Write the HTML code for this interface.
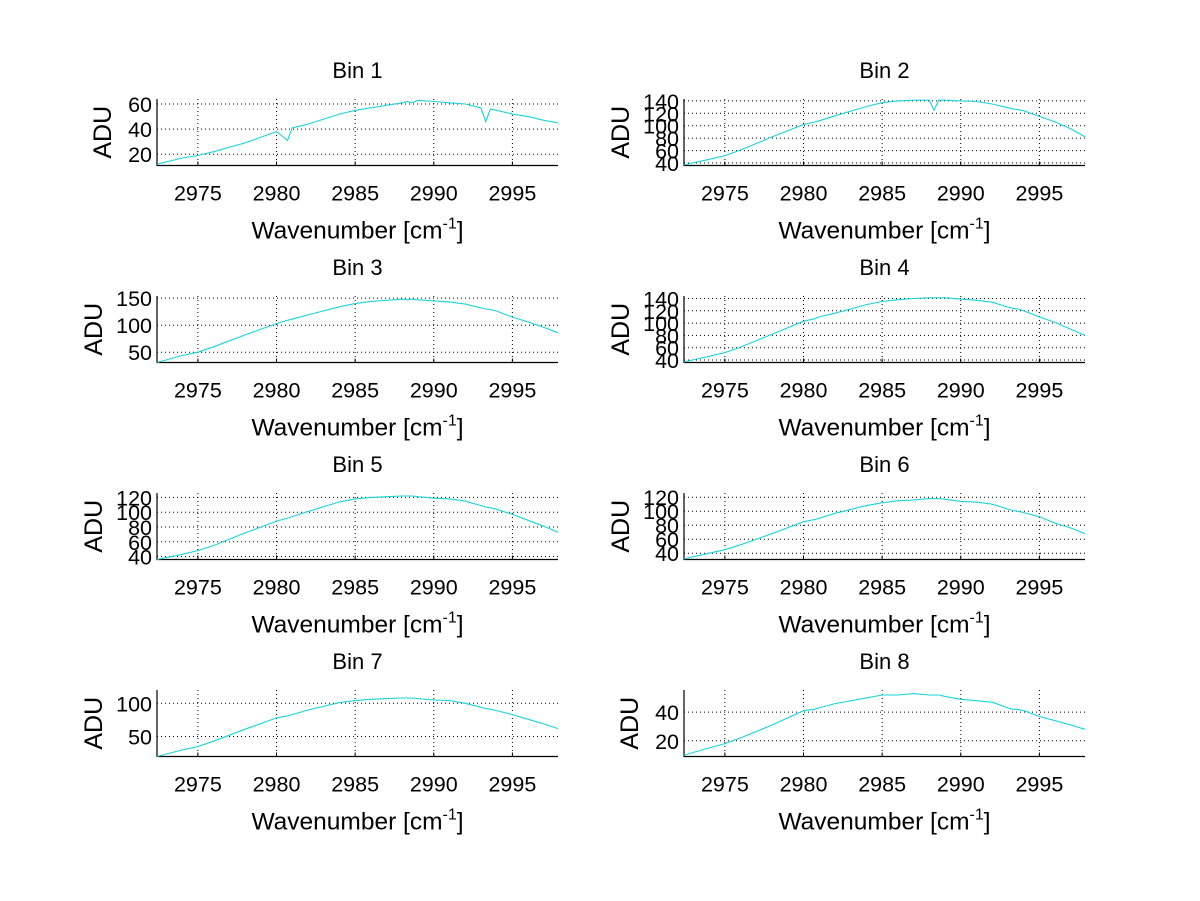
<!DOCTYPE html>
<html><head><meta charset="utf-8"><style>
html,body{margin:0;padding:0;background:#fff}
svg{display:block}
text{font-family:"Liberation Sans",sans-serif;fill:#000}
</style></head><body>
<svg id="fig" width="1200" height="901" viewBox="0 0 1200 901"></svg>
<script>
const binTitles = ["Bin 1","Bin 2","Bin 3","Bin 4","Bin 5","Bin 6","Bin 7","Bin 8"];
const xTicks = [2975,2980,2985,2990,2995];
const xLim = [2972.4, 2997.9];
const yLims = [[11,64],[36,143],[31,154],[36,144],[36,126],[31,126],[20,120],[9,55.5]];
const yTicks = [[20,40,60],[40,60,80,100,120,140],[50,100,150],[40,60,80,100,120,140],[40,60,80,100,120],[40,60,80,100,120],[50,100],[20,40]];
const wn = [2972.4,2974,2975,2976,2978,2980,2980.7,2981,2982,2984,2985,2986,2987,2988,2988.3,2988.6,2989,2990,2991,2992,2993,2993.3,2993.6,2994,2995,2996,2997,2997.9];
const bin1 = [12,17,19,22,29,38,31,41,44,52,55,57,59,61,62,61,63,62,61,60,57,46,56,55,52,50,47,45];
const bin2 = [37,46,52,61,82,102,106,108,116,131,137,140,141,141,125,141,141,140,139,135,129,127,126,124,115,106,95,82];
const bin3 = [31,44,50,60,82,103,109,111,119,134,140,144,146,148,147,148,147,145,143,139,132,130,129,126,115,106,96,86];
const bin4 = [37,46,52,61,82,103,107,110,116,130,135,138,140,141,141,141,141,139,137,134,126,124,123,120,110,101,90,80];
const bin5 = [36,43,48,55,72,88,92,94,101,114,118,120,121,122,122,122,121,119,118,115,109,107,106,104,97,89,81,73];
const bin6 = [32,40,45,52,68,85,88,90,97,108,112,115,116,118,118,118,117,114,113,110,103,101,100,98,92,83,76,68];
const bin7 = [20,30,35,43,61,78,81,83,90,101,104,106,107,108,108,108,107,105,104,100,94,92,91,89,83,76,69,62];
const bin8 = [10,15,18,22,31,41,42,43,46,50,52,52,53,52,52,52,51,49,48,47,43,42,42,41,37,34,31,28];
const series = [bin1,bin2,bin3,bin4,bin5,bin6,bin7,bin8];

const NS = "http://www.w3.org/2000/svg";
const svg = document.getElementById("fig");
function mk(tag, attrs, parent){
  const e = document.createElementNS(NS, tag);
  for (const k in attrs) e.setAttribute(k, attrs[k]);
  (parent||svg).appendChild(e);
  return e;
}
const colX = [157, 684], plotW = 401, rowY = [99, 296, 493, 690], plotH = 66.5;
for (let i = 0; i < 8; i++) {
  const L = colX[i % 2], T = rowY[Math.floor(i / 2)], R = L + plotW, B = T + plotH;
  const lim = yLims[i];
  const sx = v => L + (v - xLim[0]) / (xLim[1] - xLim[0]) * plotW;
  const sy = v => B - (v - lim[0]) / (lim[1] - lim[0]) * plotH;
  const g = mk("g", {});
  
  
  xTicks.forEach(t => {
    const x = sx(t);
    const gl = mk("line", {x1:x, x2:x, y1:T, y2:B, stroke:"#000", "stroke-width":1, "stroke-dasharray":"1 3"}, g);
    
    
    mk("line", {x1:x, x2:x, y1:B, y2:B-4, stroke:"#000"}, g);
    const tl = mk("text", {x:x, y:B+35, "font-size":21.5, "text-anchor":"middle"}, g);
    tl.textContent = t;
    
    
  });
  yTicks[i].forEach(t => {
    const y = sy(t);
    const gl = mk("line", {x1:L, x2:R, y1:y, y2:y, stroke:"#000", "stroke-width":1, "stroke-dasharray":"1 3"}, g);
    
    
    const tl = mk("text", {x:L-5, y:y+8, "font-size":21.5, "text-anchor":"end"}, g);
    tl.textContent = t;
    
    
  });
  const ax = mk("path", {d:`M${L},${T}V${B}H${R}`, fill:"none", stroke:"#000", "stroke-width":1.2}, g);
  
  
  const pts = wn.map((w, k) => sx(w).toFixed(1) + "," + sy(series[i][k]).toFixed(1)).join(" ");
  const ln = mk("polyline", {points:pts, fill:"none", stroke:"#19d3dc", "stroke-width":1.1}, g);
  
  
  const ti = mk("text", {x:(L+R)/2, y:T-21, "font-size":22, "text-anchor":"middle"}, g);
  ti.textContent = binTitles[i];
  
  
  const xl = mk("text", {x:(L+R)/2, y:B+73, "font-size":24.5, "text-anchor":"middle"}, g);
  xl.innerHTML = 'Wavenumber [cm<tspan dy="-10" font-size="16">-1</tspan><tspan dy="10">]</tspan>';
  
  
  const cy = (T + B) / 2;
  const yl = mk("text", {x:0, y:0, "font-size":25, "text-anchor":"middle", transform:`translate(${(i===0||i===7)?L-46:L-55},${cy}) rotate(-90)`}, g);
  yl.textContent = "ADU";
  
  
}
</script>
</body></html>
